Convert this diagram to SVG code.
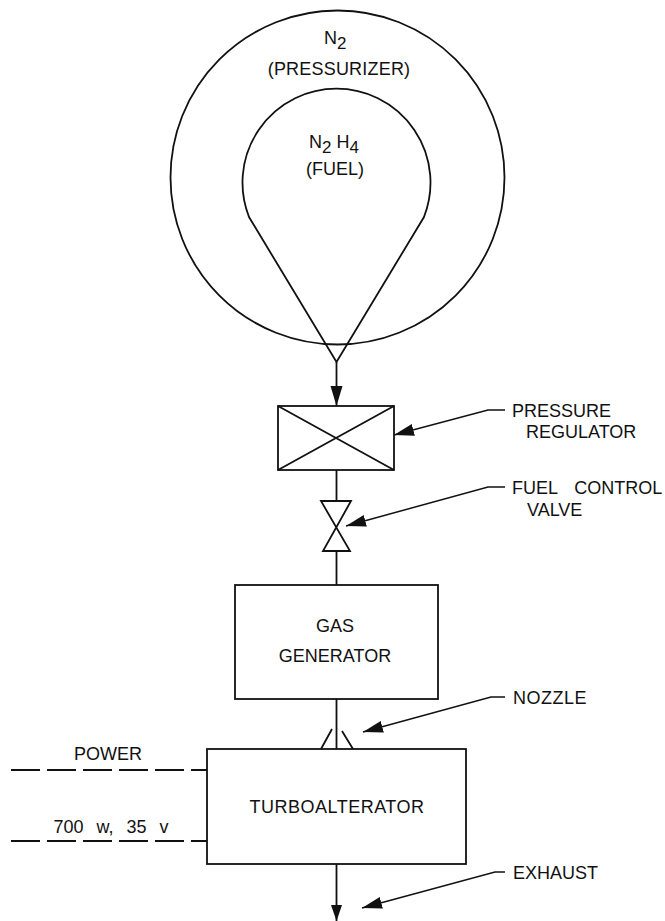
<svg xmlns="http://www.w3.org/2000/svg" width="665" height="921" viewBox="0 0 665 921">
<style>
.l{fill:none;stroke:#111;stroke-width:1.8}
.t{stroke-width:1.5}
.d{stroke-dasharray:29 7}
text{font-family:"Liberation Sans",Arial,sans-serif;font-size:18px;fill:#111;text-anchor:middle}
.s{text-anchor:start}
.b{font-size:17px}
</style>
<defs><marker id="a" markerUnits="userSpaceOnUse" markerWidth="22" markerHeight="14" refX="20" refY="7" orient="auto"><path d="M0 1L20 7L0 13Z" fill="#111"/></marker></defs>
<rect width="665" height="921" fill="#fff"/>
<g id="connectors">
<path class="l" d="M336.500 362V406" marker-end="url(#a)"/>
<path class="l" d="M336.500 470V501M336.500 551V585M336.500 699V749M336.500 864V921"/>
<path d="M331 905H342L336.500 921Z" fill="#111"/>
<path class="l d" d="M11 770H207M11 841H207"/>
<path class="l t" d="M505 410H488L394 435" marker-end="url(#a)"/>
<path class="l t" d="M505 487H488L346 526" marker-end="url(#a)"/>
<path class="l t" d="M505 697H491L363 732" marker-end="url(#a)"/>
<path class="l t" d="M505 872H495L362 908" marker-end="url(#a)"/>
</g>
<g id="tank-outer"><circle class="l" cx="337.500" cy="177.500" r="167"/><text class="s" x="324" y="44">N<tspan dy="5" class="b">2</tspan></text><text x="339" y="75" letter-spacing=".2">(PRESSURIZER)</text></g>
<g id="tank-inner"><path class="l" d="M249 217A94 94 0 1 1 424 217L336.500 362Z"/><text class="s" x="309" y="148">N<tspan dy="5" class="b">2</tspan><tspan dy="-5"> H</tspan><tspan dy="5" class="b">4</tspan></text><text x="335" y="175">(FUEL)</text></g>
<g id="pressure-regulator"><rect class="l" x="278" y="406" width="116" height="64"/><path class="l" d="M278 406L394 470M394 406L278 470"/><text class="s" x="512" y="417">PRESSURE</text><text class="s" x="526" y="438">REGULATOR</text></g>
<g id="fuel-control-valve"><path class="l" d="M321 501H351L323 551H350Z"/><text class="s" x="512" y="494" xml:space="preserve" word-spacing="3.500">FUEL  CONTROL</text><text class="s" x="527" y="516">VALVE</text></g>
<g id="gas-generator"><rect class="l" x="235" y="585" width="203" height="114"/><text x="335" y="632">GAS</text><text x="335" y="662">GENERATOR</text></g>
<g id="nozzle"><path class="l" d="M321 749L332 729M353 749L342 731"/><text class="s" x="513" y="704" letter-spacing=".5">NOZZLE</text></g>
<g id="turboalterator"><rect class="l" x="207" y="749" width="259" height="115"/><text x="337" y="813" letter-spacing=".5">TURBOALTERATOR</text><text x="108" y="760">POWER</text><text x="111" y="833" xml:space="preserve" word-spacing="1.500">700  w,  35  v</text></g>
<g id="exhaust"><text class="s" x="513" y="879">EXHAUST</text></g>
</svg>
